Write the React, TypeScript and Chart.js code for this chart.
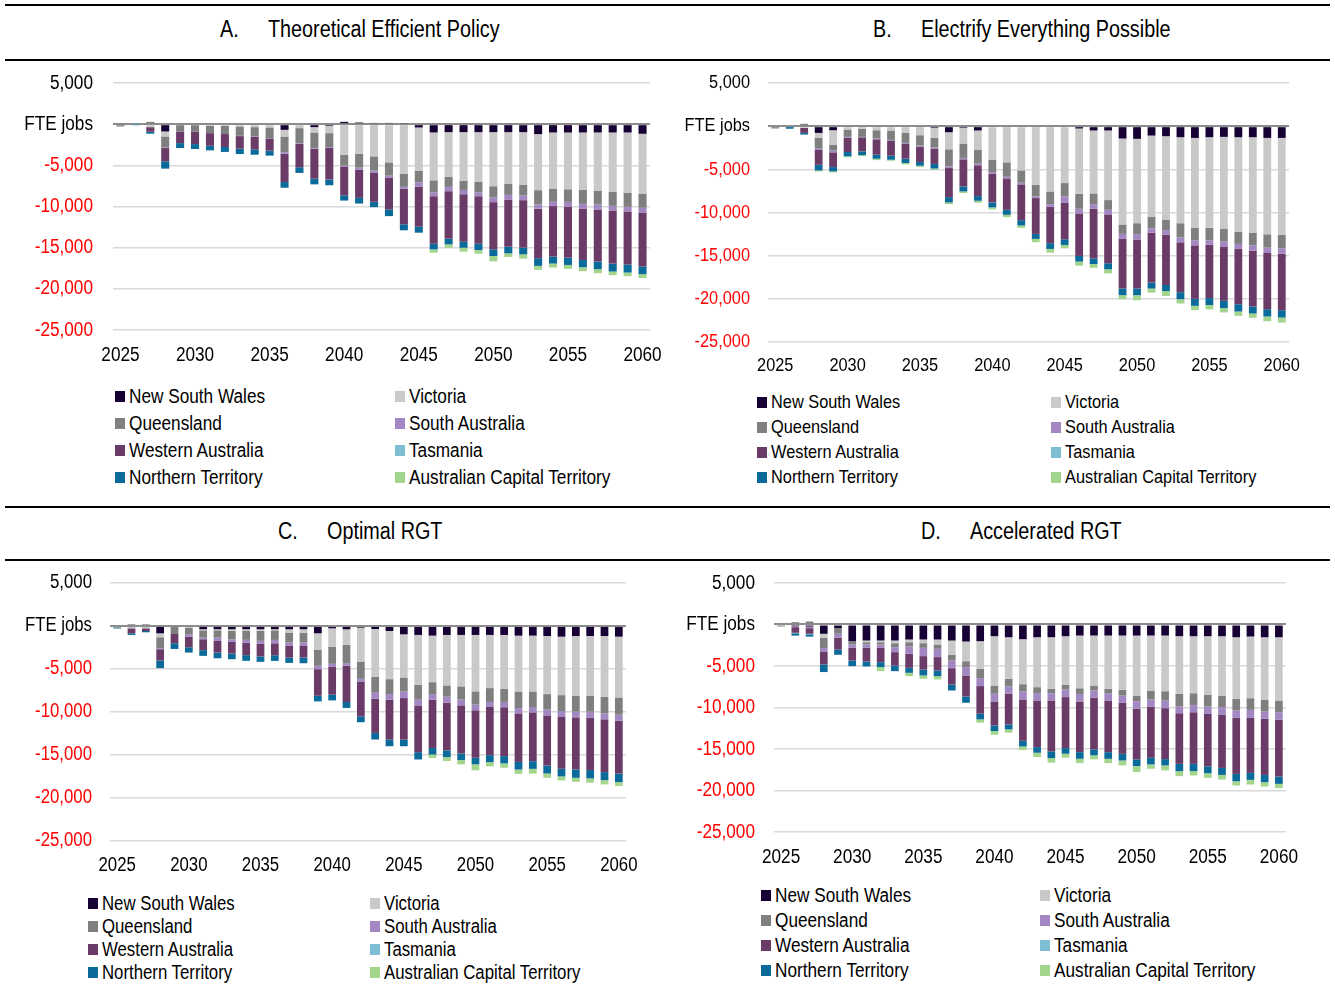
import React, { useEffect, useRef } from "react";
import { Chart, registerables } from "chart.js";

Chart.register(...registerables);

const FONT = '"Liberation Sans", Arial, sans-serif';
const NARROW = 0.86; // horizontal compression to mimic a narrow face

// ---------- categories & ticks ----------
const YEARS = [
  "2025", "2026", "2027", "2028", "2029", "2030", "2031", "2032", "2033", "2034", "2035", "2036",
  "2037", "2038", "2039", "2040", "2041", "2042", "2043", "2044", "2045", "2046", "2047", "2048",
  "2049", "2050", "2051", "2052", "2053", "2054", "2055", "2056", "2057", "2058", "2059", "2060",
];
const X_TICK_LABELS = ["2025", "2030", "2035", "2040", "2045", "2050", "2055", "2060"];
const Y_MIN = -25000;
const Y_MAX = 5000;
const Y_STEP = 5000;
const ZERO_LABEL = "FTE jobs";

const STATE_NAMES = [
  "New South Wales", "Victoria", "Queensland", "South Australia",
  "Western Australia", "Tasmania", "Northern Territory", "Australian Capital Territory",
];
const STATE_COLORS = ["#170033", "#c9c9c9", "#7f7f7f", "#a287c2", "#6b3b68", "#7fbdd5", "#0a6b9b", "#a3d58d"];

// ---------- A. Theoretical Efficient Policy ----------
const A_NSW = [0, 0, 0, -890, 0, 0, 0, 0, 0, 0, 0, -690, 0, -360, -200, 280, 200, 150, 150, 100, -400, -1010, -970, -970, -970, -970, -970, -970, -1210, -1010, -1010, -1010, -1010, -1010, -1010, -1170];
const A_VIC = [0, 0, -360, -600, 0, 0, -200, -200, -280, -360, -400, -810, -480, -650, -890, -3710, -3590, -3910, -4640, -6000, -5240, -5810, -5440, -5890, -6010, -6570, -6250, -6370, -6810, -6810, -6900, -6980, -7060, -7220, -7300, -7260];
const A_QLD = [-280, 0, 280, -1330, -890, -890, -890, -1000, -1130, -1130, -1290, -1900, -1810, -1900, -1690, -1330, -1690, -1730, -1610, -1610, -1410, -1450, -1210, -1130, -1290, -1370, -1370, -1330, -1730, -1610, -1530, -1690, -1690, -1690, -1730, -1730];
const A_SA = [0, 0, 0, -80, 0, 0, 0, 0, -40, -40, -40, -200, -80, -80, -80, -160, -240, -280, -280, -240, -560, -480, -520, -520, -480, -560, -560, -560, -520, -520, -560, -560, -600, -560, -560, -560];
const A_WA = [0, 0, -560, -1610, -1410, -1530, -1530, -1570, -1530, -1530, -1490, -3430, -2860, -3630, -3870, -3430, -3430, -3510, -3830, -4310, -4840, -5770, -5770, -5770, -5770, -5730, -5730, -5770, -6010, -6130, -6210, -6250, -6330, -6450, -6450, -6570];
const A_TAS = [0, -60, 0, 0, 0, 0, 0, 0, 0, 0, 0, 0, 0, 0, 0, 0, 0, 0, 0, 0, 0, 0, 0, 0, 0, 0, 0, 0, 0, 0, 0, 0, 0, 0, 0, 0];
const A_NT = [0, -60, -240, -890, -600, -600, -560, -600, -650, -650, -600, -690, -690, -690, -690, -650, -690, -650, -810, -730, -730, -690, -690, -730, -770, -810, -810, -810, -930, -850, -890, -890, -930, -970, -970, -930];
const A_ACT = [0, 0, 0, 0, 0, 0, 0, 0, 0, 0, 0, 0, 0, 0, 0, 0, 0, 0, 0, 0, 0, -400, -400, -480, -440, -650, -440, -520, -480, -480, -480, -480, -480, -440, -440, -480];

// ---------- B. Electrify Everything Possible ----------
const B_NSW = [0, 0, 0, -780, -470, 0, 0, 0, 0, 0, -120, -190, -700, -190, -500, 0, 0, 0, 0, 0, 0, -270, -500, -500, -1430, -1470, -1090, -1160, -1280, -1360, -1280, -1240, -1280, -1280, -1360, -1360];
const B_VIC = [0, 0, -200, -580, -1670, -390, -310, -470, -500, -780, -930, -1160, -1980, -1820, -2210, -3880, -4190, -5120, -6780, -7560, -6590, -7560, -7290, -8060, -9960, -9770, -9380, -9650, -9960, -10430, -10500, -10660, -10930, -11050, -11160, -11240];
const B_QLD = [-270, 0, 270, -1240, -700, -850, -930, -970, -1090, -1160, -1200, -1120, -1980, -1670, -1630, -1430, -1670, -1430, -1360, -1470, -1550, -1740, -1240, -1120, -1090, -1280, -1360, -1240, -1630, -1430, -1430, -1470, -1430, -1470, -1550, -1550];
const B_SA = [0, 0, 0, -160, -190, -80, -50, -80, -120, -120, -120, -120, -190, -160, -190, -190, -190, -190, -190, -310, -700, -540, -540, -540, -580, -660, -500, -540, -580, -580, -540, -620, -580, -620, -620, -620];
const B_WA = [0, 0, -580, -1710, -1710, -1670, -1630, -1780, -1710, -1710, -1780, -1780, -3370, -3140, -3570, -3330, -3640, -4150, -4150, -4220, -4260, -4920, -5740, -5660, -5740, -5620, -5780, -5810, -5780, -6200, -6160, -6240, -6400, -6470, -6510, -6550];
const B_TAS = [0, -100, 0, 0, 0, 0, 0, 0, 0, 0, 0, 0, 0, 0, 0, 0, 0, 0, 0, 0, 0, 0, 0, 0, 0, 0, 0, 0, 0, 0, 0, 0, 0, 0, 0, 0];
const B_NT = [0, -200, -190, -660, -500, -500, -430, -470, -470, -500, -430, -540, -620, -580, -540, -580, -580, -620, -580, -660, -660, -660, -660, -700, -780, -780, -700, -700, -810, -810, -810, -850, -850, -810, -850, -850];
const B_ACT = [0, 0, 0, -120, -120, -120, -120, -160, -120, -160, -160, -160, -190, -190, -230, -230, -270, -270, -390, -430, -390, -470, -430, -470, -470, -580, -470, -580, -500, -500, -500, -500, -500, -500, -540, -580];

// ---------- C. Optimal RGT ----------
const C_NSW = [0, 0, 0, -850, 0, 0, -380, -380, -380, -380, -380, -380, -380, -380, -850, -270, -390, -190, -350, -580, -970, -1040, -1120, -1040, -1040, -1040, -1040, -1040, -1120, -1120, -1160, -1240, -1160, -1160, -1160, -1240];
const C_VIC = [0, -270, -270, -460, 0, -190, -120, -120, -190, -190, -190, -120, -390, -390, -1930, -2160, -1810, -3940, -5560, -5600, -5020, -5790, -5410, -5870, -5980, -6560, -6180, -6250, -6490, -6490, -6760, -6800, -6950, -6950, -7070, -7070];
const C_QLD = [-200, 200, 200, -1270, -930, -770, -850, -850, -970, -1040, -1160, -1120, -1160, -1160, -1850, -1970, -2120, -2010, -1850, -1740, -1620, -1740, -1390, -1310, -1540, -1540, -1620, -1540, -1930, -1810, -1810, -1850, -1850, -1850, -1930, -2010];
const C_SA = [0, 0, 0, -120, 0, -270, -190, -390, -310, -350, -310, -390, -390, -390, -390, -310, -310, -310, -690, -660, -770, -660, -660, -690, -660, -660, -580, -620, -620, -620, -660, -690, -660, -730, -690, -690];
const C_WA = [0, -580, -310, -1310, -1080, -1240, -1270, -1350, -1350, -1430, -1510, -1390, -1350, -1350, -3090, -3280, -4210, -4050, -3980, -4630, -4830, -5440, -5600, -5560, -5600, -5520, -5600, -5680, -5640, -5680, -5830, -6020, -6060, -6060, -6140, -6140];
const C_TAS = [-150, 0, 0, 0, 0, 0, 0, 0, 0, 0, 0, 0, 0, 0, 0, 0, 0, 0, 0, 0, 0, 0, 0, 0, 0, 0, 0, 0, 0, 0, 0, 0, 0, 0, 0, 0];
const C_NT = [0, -190, -150, -890, -660, -620, -660, -660, -660, -660, -620, -660, -620, -660, -660, -660, -690, -690, -770, -770, -770, -850, -770, -770, -770, -770, -810, -850, -890, -890, -930, -890, -970, -970, -930, -1000];
const C_ACT = [0, 0, 0, 0, 0, 0, 0, 0, 0, 0, 0, 0, 0, 0, 0, 0, 0, 0, 0, 0, 0, 0, -390, -460, -500, -690, -500, -500, -500, -540, -500, -460, -460, -500, -500, -460];

// ---------- D. Accelerated RGT ----------
const D_NSW = [0, -200, -240, -1120, -440, -2010, -1930, -1930, -1930, -1810, -1810, -1810, -1930, -2050, -2010, -1410, -1530, -1770, -1530, -1530, -1410, -1330, -1330, -1330, -1330, -1330, -1330, -1330, -1410, -1410, -1410, -1410, -1530, -1450, -1530, -1530];
const D_VIC = [0, 0, 0, -480, 0, 0, -200, -200, -320, -320, -440, -600, -1730, -2370, -3330, -5940, -5020, -5420, -6020, -6220, -5860, -6350, -6020, -6430, -6550, -7230, -6630, -6710, -6950, -6870, -7070, -7150, -7430, -7430, -7510, -7630];
const D_QLD = [-240, 280, 360, -1240, -680, -400, -280, -280, -480, -520, -560, -520, -680, -720, -1120, -1000, -920, -880, -720, -520, -560, -680, -600, -520, -680, -680, -1080, -1120, -1490, -1410, -1410, -1410, -1410, -1410, -1410, -1410];
const D_SA = [0, -120, -200, -400, -480, -400, -400, -400, -600, -880, -1000, -1000, -920, -1000, -960, -920, -880, -960, -880, -880, -920, -920, -880, -880, -880, -920, -840, -920, -840, -880, -880, -920, -880, -920, -920, -920];
const D_WA = [0, -680, -680, -1570, -1410, -1530, -1650, -1730, -1610, -1690, -1610, -1610, -1970, -2530, -3330, -2890, -3690, -4980, -5620, -6140, -6140, -6100, -6220, -6220, -6140, -6100, -6180, -6140, -6100, -6220, -6310, -6390, -6750, -6670, -6750, -6830];
const D_TAS = [0, -60, -60, 0, 0, 0, 0, 0, 0, 0, 0, 0, 0, 0, 0, 0, 0, 0, 0, 0, 0, 0, 0, 0, 0, 0, 0, 0, 0, 0, 0, 0, 0, 0, 0, 0];
const D_NT = [0, -280, -280, -920, -640, -680, -600, -600, -680, -600, -720, -680, -720, -760, -680, -680, -600, -680, -680, -800, -680, -800, -720, -800, -800, -800, -800, -760, -880, -880, -840, -840, -880, -840, -880, -880];
const D_ACT = [0, 0, 0, 0, 0, 0, 0, -480, 0, -400, -400, -400, 0, 0, -400, -440, -400, -440, -520, -560, -480, -520, -480, -520, -600, -720, -520, -600, -600, -520, -560, -560, -520, -560, -520, -520];

// ---------- panel definitions (layout is kept separate from the data) ----------
type PanelDef = {
  letter: string;
  title: string;
  series: number[][];
  letterX: number; textX: number; titleY: number;
  canvasLeft: number; plotLeft: number; plotRight: number; plotTop: number; plotBottom: number;
  yPad: number; xPad: number; tickSize: number;
  legCol1: number; legCol2: number; legRow0: number; legGap: number; legSize: number;
};

const PANELS: PanelDef[] = [
  {
    letter: "A.", title: "Theoretical Efficient Policy",
    series: [A_NSW, A_VIC, A_QLD, A_SA, A_WA, A_TAS, A_NT, A_ACT],
    letterX: 220, textX: 268, titleY: 29,
    canvasLeft: 0, plotLeft: 113, plotRight: 650, plotTop: 83, plotBottom: 330,
    yPad: 20, xPad: 13, tickSize: 20,
    legCol1: 115, legCol2: 395, legRow0: 396, legGap: 27, legSize: 20,
  },
  {
    letter: "B.", title: "Electrify Everything Possible",
    series: [B_NSW, B_VIC, B_QLD, B_SA, B_WA, B_TAS, B_NT, B_ACT],
    letterX: 873, textX: 921, titleY: 29,
    canvasLeft: 680, plotLeft: 768, plotRight: 1289, plotTop: 83, plotBottom: 342,
    yPad: 18, xPad: 12, tickSize: 19,
    legCol1: 757, legCol2: 1051, legRow0: 402, legGap: 25, legSize: 19,
  },
  {
    letter: "C.", title: "Optimal RGT",
    series: [C_NSW, C_VIC, C_QLD, C_SA, C_WA, C_TAS, C_NT, C_ACT],
    letterX: 278, textX: 327, titleY: 531,
    canvasLeft: 0, plotLeft: 110, plotRight: 626, plotTop: 583, plotBottom: 841,
    yPad: 18, xPad: 13, tickSize: 19.5,
    legCol1: 88, legCol2: 370, legRow0: 903, legGap: 23, legSize: 19.5,
  },
  {
    letter: "D.", title: "Accelerated RGT",
    series: [D_NSW, D_VIC, D_QLD, D_SA, D_WA, D_TAS, D_NT, D_ACT],
    letterX: 921, textX: 970, titleY: 531,
    canvasLeft: 680, plotLeft: 774, plotRight: 1286, plotTop: 583, plotBottom: 832,
    yPad: 19, xPad: 13, tickSize: 20,
    legCol1: 761, legCol2: 1040, legRow0: 895, legGap: 25, legSize: 20,
  },
];

const PAD_TOP = 15;
const PAD_RIGHT = 25;
const X_AXIS_H = 40;
const TITLE_SIZE = 23;

function fmt(v: number): string {
  return v.toLocaleString("en-US");
}

// draws every canvas label horizontally compressed around its anchor point
const narrowTextPlugin = {
  id: "narrowText",
  beforeDraw(chart: any) {
    const ctx = chart.ctx as any;
    if (ctx.__narrowPatched) return;
    const orig = ctx.fillText.bind(ctx);
    ctx.fillText = (t: string, x: number, y: number, mw?: number) => {
      ctx.save();
      ctx.translate(x, y);
      ctx.scale(NARROW, 1);
      if (mw !== undefined) orig(t, 0, 0, mw / NARROW);
      else orig(t, 0, 0);
      ctx.restore();
    };
    ctx.__narrowPatched = true;
  },
};

function Panel({ p }: { p: PanelDef }) {
  const ref = useRef<HTMLCanvasElement | null>(null);
  const width = p.plotRight - p.canvasLeft + PAD_RIGHT;
  const height = PAD_TOP + (p.plotBottom - p.plotTop) + X_AXIS_H;

  useEffect(() => {
    if (!ref.current) return;
    const chart = new Chart(ref.current, {
      type: "bar",
      data: {
        labels: YEARS,
        datasets: STATE_NAMES.map((name, i) => ({
          label: name,
          data: p.series[i],
          backgroundColor: STATE_COLORS[i],
          borderWidth: 0,
          barPercentage: 0.54,
          categoryPercentage: 1,
        })),
      },
      plugins: [narrowTextPlugin],
      options: {
        animation: false,
        responsive: false,
        maintainAspectRatio: false,
        devicePixelRatio: 1,
        layout: { padding: { left: 0, top: PAD_TOP, right: PAD_RIGHT, bottom: 0 } },
        plugins: { legend: { display: false }, tooltip: { enabled: false }, title: { display: false } },
        scales: {
          x: {
            stacked: true,
            grid: { display: false, drawTicks: false },
            border: { display: false },
            ticks: {
              autoSkip: false,
              maxRotation: 0,
              minRotation: 0,
              padding: p.xPad,
              color: "#000000",
              font: { family: FONT, size: p.tickSize },
              callback: (_v: any, i: number) => (X_TICK_LABELS.includes(YEARS[i]) ? YEARS[i] : ""),
            },
            afterFit: (s: any) => {
              s.height = X_AXIS_H;
              s.paddingLeft = 0;
              s.paddingRight = 0;
            },
          },
          y: {
            stacked: true,
            min: Y_MIN,
            max: Y_MAX,
            grid: {
              drawTicks: false,
              color: (ctx: any) => (ctx.tick && ctx.tick.value === 0 ? "#8c8c8c" : "#d9d9d9"),
              lineWidth: (ctx: any) => (ctx.tick && ctx.tick.value === 0 ? 2 : 1.6),
            },
            border: { display: false },
            ticks: {
              stepSize: Y_STEP,
              padding: p.yPad,
              font: { family: FONT, size: p.tickSize },
              color: (ctx: any) => (ctx.tick && ctx.tick.value < 0 ? "#ff0000" : "#000000"),
              callback: (v: any) => (Number(v) === 0 ? ZERO_LABEL : fmt(Number(v))),
            },
            afterFit: (s: any) => {
              s.width = p.plotLeft - p.canvasLeft;
              s.paddingTop = 0;
              s.paddingBottom = 0;
            },
          },
        },
      },
    } as any);
    return () => chart.destroy();
  }, [p]);

  const boxSize = 10;
  const narrowSpan = (extra: React.CSSProperties = {}): React.CSSProperties => ({
    display: "inline-block",
    transform: `scaleX(${NARROW})`,
    transformOrigin: "0 50%",
    whiteSpace: "nowrap",
    ...extra,
  });
  return (
    <>
      <div
        style={{
          position: "absolute",
          left: p.letterX,
          top: p.titleY - 15,
          height: 30,
          lineHeight: "30px",
          fontSize: TITLE_SIZE,
          color: "#000",
          whiteSpace: "nowrap",
        }}
      >
        <span style={narrowSpan()}>{p.letter}</span>
      </div>
      <div
        style={{
          position: "absolute",
          left: p.textX,
          top: p.titleY - 15,
          height: 30,
          lineHeight: "30px",
          fontSize: TITLE_SIZE,
          color: "#000",
          whiteSpace: "nowrap",
        }}
      >
        <span style={narrowSpan()}>{p.title}</span>
      </div>
      <canvas
        ref={ref}
        width={width}
        height={height}
        style={{
          position: "absolute",
          left: p.canvasLeft,
          top: p.plotTop - PAD_TOP,
          width,
          height,
        }}
      />
      {STATE_NAMES.map((name, i) => {
        const row = Math.floor(i / 2);
        const col = i % 2;
        const x = col === 0 ? p.legCol1 : p.legCol2;
        const y = p.legRow0 + row * p.legGap;
        return (
          <div
            key={name}
            style={{
              position: "absolute",
              left: x,
              top: y - 12,
              height: 24,
              display: "flex",
              alignItems: "center",
              whiteSpace: "nowrap",
              fontSize: p.legSize,
              color: "#000",
            }}
          >
            <span
              style={{
                display: "inline-block",
                width: boxSize,
                height: boxSize + 1,
                background: STATE_COLORS[i],
                marginRight: 4,
                flex: "0 0 auto",
              }}
            />
            <span style={narrowSpan({ lineHeight: "24px" })}>{name}</span>
          </div>
        );
      })}
    </>
  );
}

const RULES = [
  { y: 4, x1: 5, x2: 1330 },
  { y: 59, x1: 5, x2: 1330 },
  { y: 506, x1: 5, x2: 1330 },
  { y: 559, x1: 5, x2: 1330 },
];

export default function App() {
  return (
    <div
      style={{
        position: "absolute",
        left: 0,
        top: 0,
        width: 1335,
        height: 987,
        background: "#ffffff",
        fontFamily: FONT,
        overflow: "hidden",
      }}
    >
      {RULES.map((r, i) => (
        <div
          key={i}
          style={{
            position: "absolute",
            left: r.x1,
            top: r.y,
            width: r.x2 - r.x1,
            height: 2,
            background: "#000000",
          }}
        />
      ))}
      {PANELS.map((p) => (
        <Panel key={p.letter} p={p} />
      ))}
    </div>
  );
}
